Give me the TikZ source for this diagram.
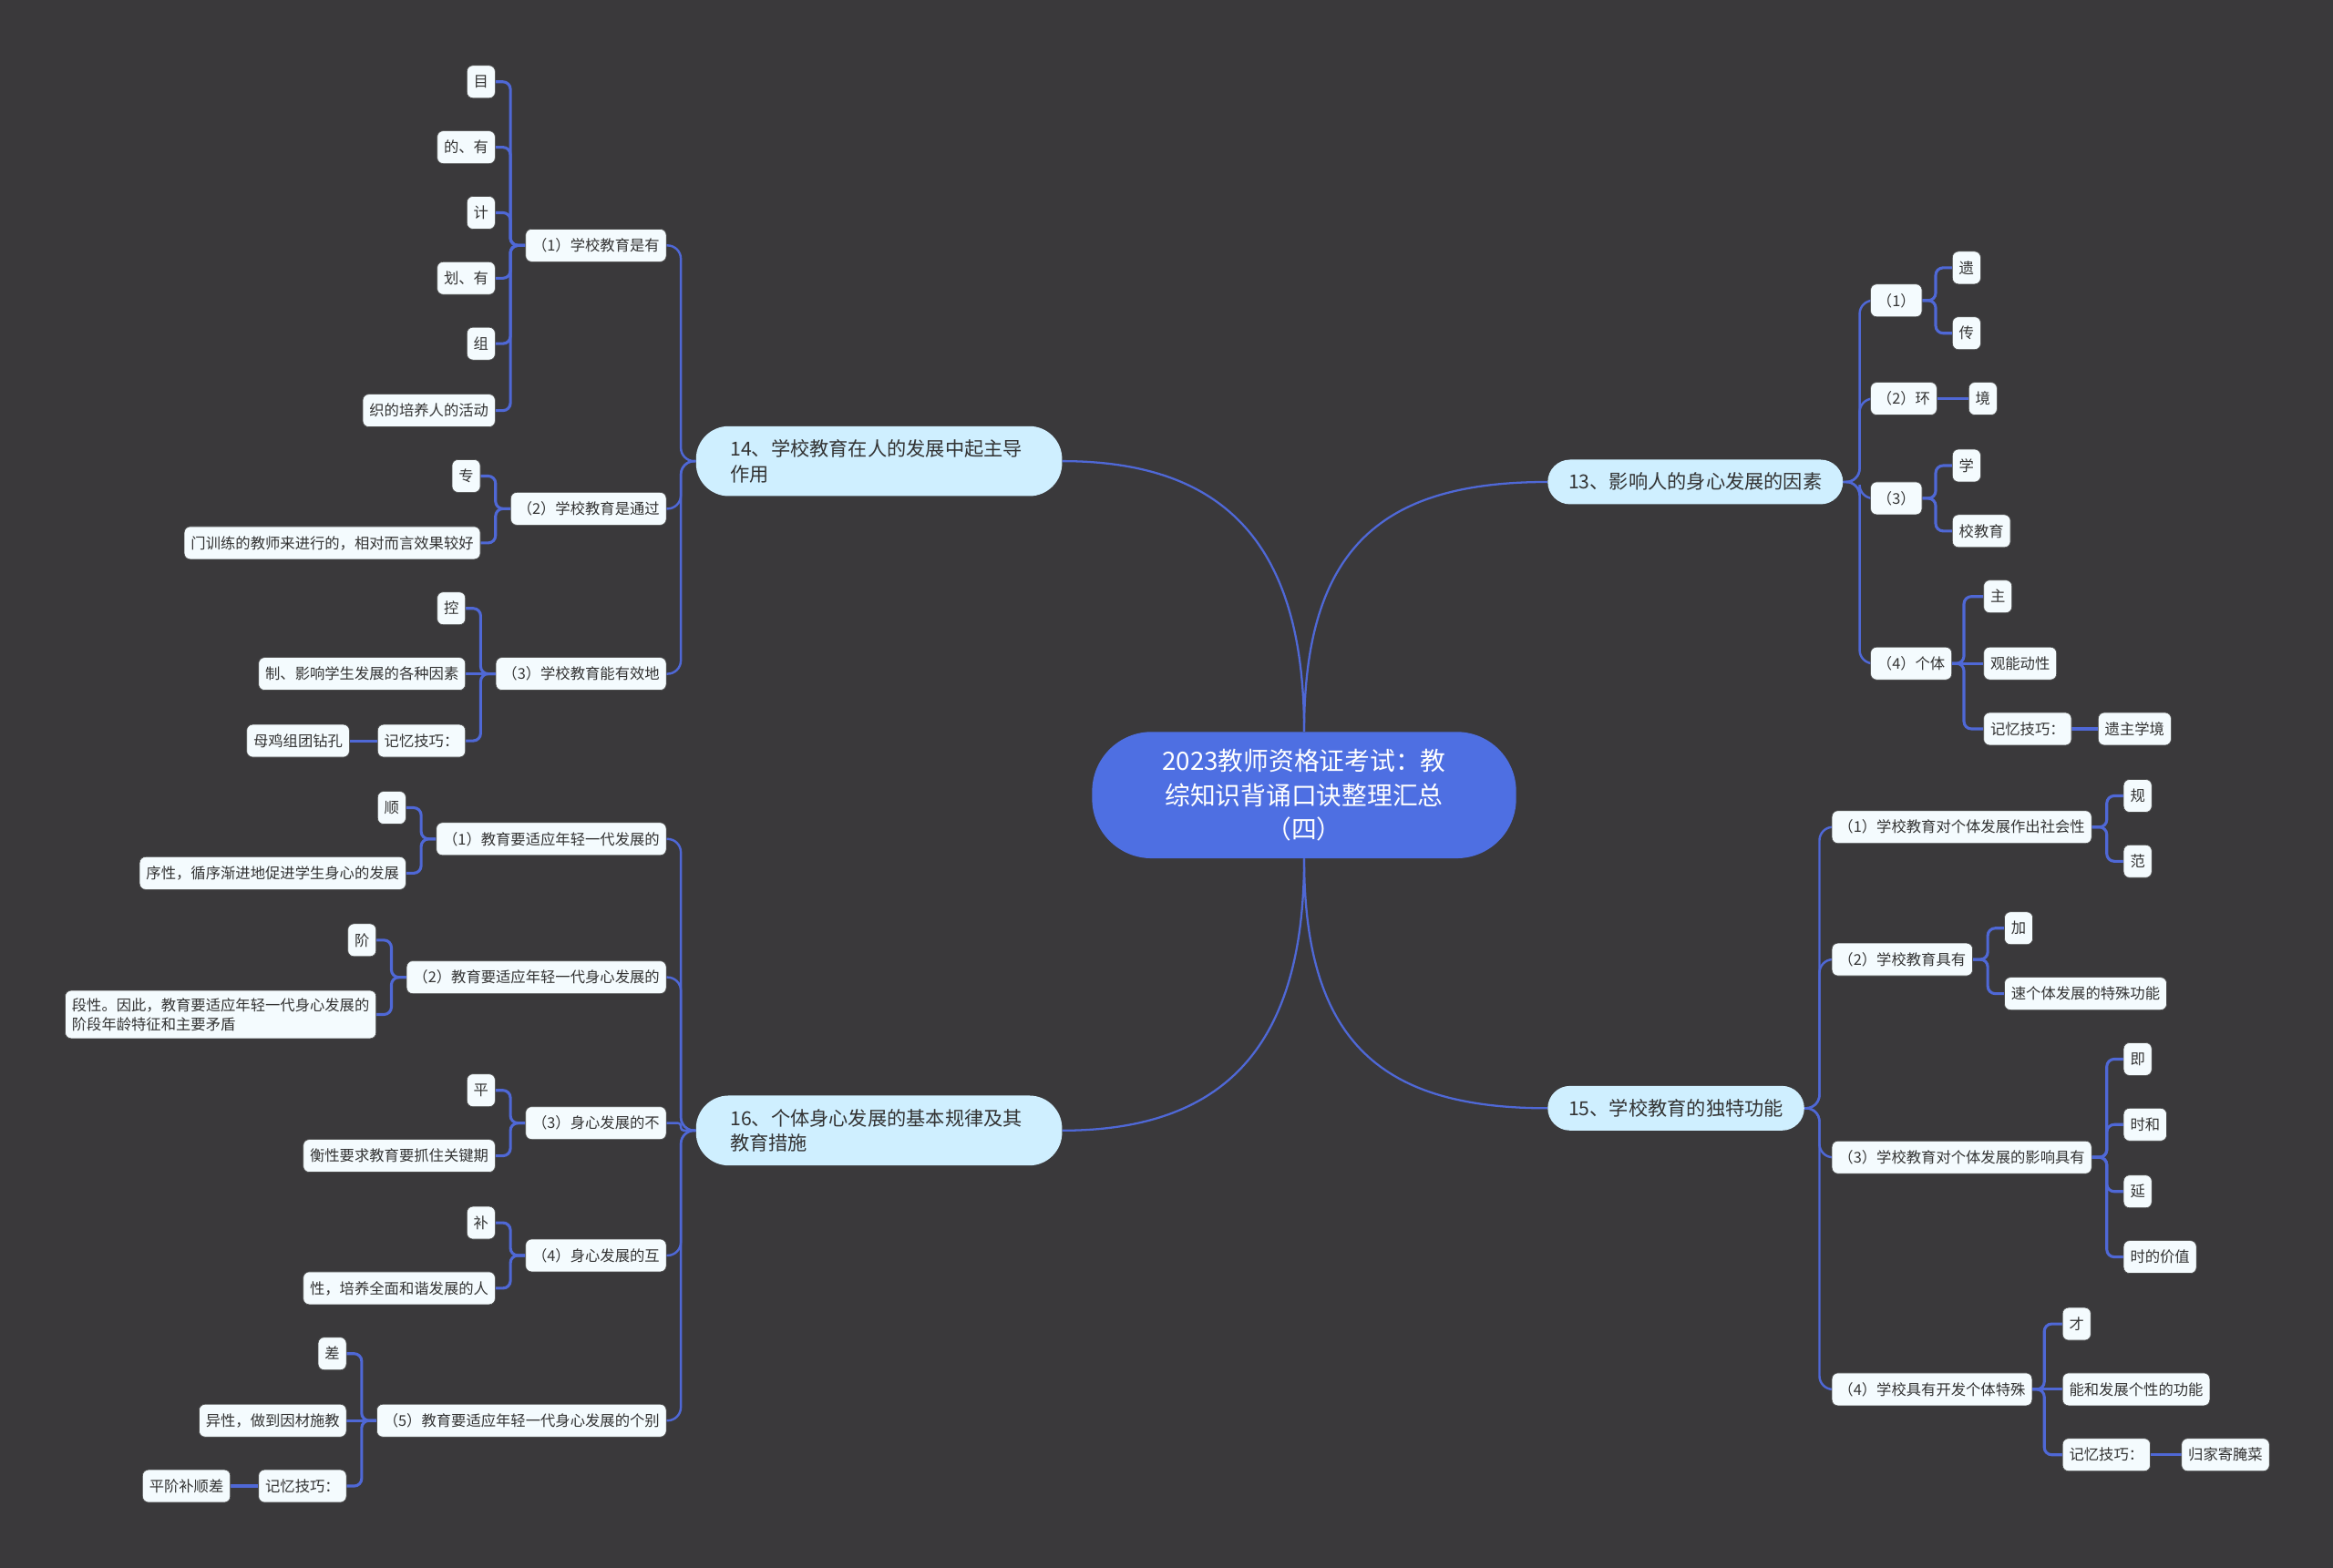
\documentclass[tikz,border=0pt]{standalone}
\usepackage{fontspec}
\setmainfont{Noto Sans CJK SC}
\usetikzlibrary{backgrounds}
\definecolor{bgc}{HTML}{3A393B}
\definecolor{lkc}{HTML}{4F68D6}
\definecolor{rootc}{HTML}{4E6FE2}
\definecolor{topc}{HTML}{CFEFFF}
\definecolor{leafc}{HTML}{F4FBFE}
\definecolor{txtc}{HTML}{333333}
\begin{document}
\begin{tikzpicture}[x=1pt,y=-1pt,
 root/.style={fill=rootc, text=white, rounded corners=40pt, minimum width=285pt, minimum height=85pt, text width=230pt, align=center, font=\fontsize{17pt}{23pt}\selectfont, inner sep=0pt},
 topic/.style={fill=topc, text=txtc, rounded corners=15pt, font=\fontsize{13pt}{17pt}\selectfont, inner xsep=14pt, inner ysep=0pt, text height=11.4pt, text depth=1.6pt, minimum height=30pt},
 topictwo/.style={fill=topc, text=txtc, rounded corners=22pt, font=\fontsize{13pt}{17pt}\selectfont, inner xsep=23pt, inner ysep=0pt, minimum height=47pt, text width=200pt, align=left},
 leaf/.style={fill=leafc, text=txtc, draw=black!70, line width=0.4pt, rounded corners=4pt, font=\fontsize{10pt}{13pt}\selectfont, inner xsep=4.5pt, inner ysep=6pt, text height=8.8pt, text depth=1.2pt},
 leafml/.style={fill=leafc, text=txtc, draw=black!70, line width=0.4pt, rounded corners=4pt, font=\fontsize{10pt}{13pt}\selectfont, inner xsep=4.5pt, inner ysep=5pt, text width=200pt, align=left},
 mainlk/.style={draw=lkc, line width=1.4pt},
 lk/.style={draw=lkc, line width=1.5pt, rounded corners=9pt},
 lkb/.style={draw=lkc, line width=1.9pt, rounded corners=5pt}
]
\begin{pgfonlayer}{background}
\fill[bgc] (0,0) rectangle (1568,1054);
\end{pgfonlayer}
\useasboundingbox (0,0) rectangle (1568,1054);

% root
\node[root] (root) at (876.5,534.5) {2023教师资格证考试：教\\综知识背诵口诀整理汇总\\（四）};

% ---------- 13 ----------
\node[topic,anchor=west] (t13) at (1040,324) {13、影响人的身心发展的因素};
\node[leaf,anchor=west] (a1) at (1257,202) {（1）};
\node[leaf,anchor=west] (a2) at (1257,268) {（2）环};
\node[leaf,anchor=west] (a3) at (1257,335) {（3）};
\node[leaf,anchor=west] (a4) at (1257,446) {（4）个体};
\node[leaf,anchor=west] (a11) at (1312,180) {遗};
\node[leaf,anchor=west] (a12) at (1312,224) {传};
\node[leaf,anchor=west] (a21) at (1323,268) {境};
\node[leaf,anchor=west] (a31) at (1312,313) {学};
\node[leaf,anchor=west] (a32) at (1312,357) {校教育};
\node[leaf,anchor=west] (a41) at (1333,401) {主};
\node[leaf,anchor=west] (a42) at (1333,446) {观能动性};
\node[leaf,anchor=west] (a43) at (1333,490) {记忆技巧：};
\node[leaf,anchor=west] (a431) at (1410,490) {遗主学境};

% ---------- 15 ----------
\node[topic,anchor=west] (t15) at (1040,745) {15、学校教育的独特功能};
\node[leaf,anchor=west] (c1) at (1231,556) {（1）学校教育对个体发展作出社会性};
\node[leaf,anchor=west] (c11) at (1427,535) {规};
\node[leaf,anchor=west] (c12) at (1427,579) {范};
\node[leaf,anchor=west] (c2) at (1231,645) {（2）学校教育具有};
\node[leaf,anchor=west] (c21) at (1347,624) {加};
\node[leaf,anchor=west] (c22) at (1347,668) {速个体发展的特殊功能};
\node[leaf,anchor=west] (c3) at (1231,778) {（3）学校教育对个体发展的影响具有};
\node[leaf,anchor=west] (c31) at (1427,712) {即};
\node[leaf,anchor=west] (c32) at (1427,756) {时和};
\node[leaf,anchor=west] (c33) at (1427,801) {延};
\node[leaf,anchor=west] (c34) at (1427,845) {时的价值};
\node[leaf,anchor=west] (c4) at (1231,934) {（4）学校具有开发个体特殊};
\node[leaf,anchor=west] (c41) at (1386,890) {才};
\node[leaf,anchor=west] (c42) at (1386,934) {能和发展个性的功能};
\node[leaf,anchor=west] (c43) at (1386,978) {记忆技巧：};
\node[leaf,anchor=west] (c431) at (1466,978) {归家寄腌菜};

% ---------- 14 ----------
\node[topictwo,anchor=east] (t14) at (714,310) {14、学校教育在人的发展中起主导\\作用};
\node[leaf,anchor=east] (b1) at (448,165) {（1）学校教育是有};
\node[leaf,anchor=east] (b11) at (333,55) {目};
\node[leaf,anchor=east] (b12) at (333,99) {的、有};
\node[leaf,anchor=east] (b13) at (333,143) {计};
\node[leaf,anchor=east] (b14) at (333,187) {划、有};
\node[leaf,anchor=east] (b15) at (333,231) {组};
\node[leaf,anchor=east] (b16) at (333,276) {织的培养人的活动};
\node[leaf,anchor=east] (b2) at (448,342) {（2）学校教育是通过};
\node[leaf,anchor=east] (b21) at (323,320) {专};
\node[leaf,anchor=east] (b22) at (323,365) {门训练的教师来进行的，相对而言效果较好};
\node[leaf,anchor=east] (b3) at (448,453) {（3）学校教育能有效地};
\node[leaf,anchor=east] (b31) at (313,409) {控};
\node[leaf,anchor=east] (b32) at (313,453) {制、影响学生发展的各种因素};
\node[leaf,anchor=east] (b33) at (313,498) {记忆技巧：};
\node[leaf,anchor=east] (b331) at (235,498) {母鸡组团钻孔};

% ---------- 16 ----------
\node[topictwo,anchor=east] (t16) at (714,760) {16、个体身心发展的基本规律及其\\教育措施};
\node[leaf,anchor=east] (d1) at (448,564) {（1）教育要适应年轻一代发展的};
\node[leaf,anchor=east] (d11) at (273,543) {顺};
\node[leaf,anchor=east] (d12) at (273,587) {序性，循序渐进地促进学生身心的发展};
\node[leaf,anchor=east] (d2) at (448,657) {（2）教育要适应年轻一代身心发展的};
\node[leaf,anchor=east] (d21) at (253,632) {阶};
\node[leafml,anchor=east] (d22) at (253,682) {段性。因此，教育要适应年轻一代身心发展的\\阶段年龄特征和主要矛盾};
\node[leaf,anchor=east] (d3) at (448,755) {（3）身心发展的不};
\node[leaf,anchor=east] (d31) at (333,733) {平};
\node[leaf,anchor=east] (d32) at (333,777) {衡性要求教育要抓住关键期};
\node[leaf,anchor=east] (d4) at (448,844) {（4）身心发展的互};
\node[leaf,anchor=east] (d41) at (333,822) {补};
\node[leaf,anchor=east] (d42) at (333,866) {性，培养全面和谐发展的人};
\node[leaf,anchor=east] (d5) at (448,955) {（5）教育要适应年轻一代身心发展的个别};
\node[leaf,anchor=east] (d51) at (233,910) {差};
\node[leaf,anchor=east] (d52) at (233,955) {异性，做到因材施教};
\node[leaf,anchor=east] (d53) at (233,999) {记忆技巧：};
\node[leaf,anchor=east] (d531) at (155,999) {平阶补顺差};

\begin{pgfonlayer}{background}
% root to topics
\draw[mainlk] (root.north) .. controls +(0,-125) and +(-110,0) .. (t13.west);
\draw[mainlk] (root.north) .. controls +(0,-125) and +(110,0) .. (t14.east);
\draw[mainlk] (root.south) .. controls +(0,125) and +(-110,0) .. (t15.west);
\draw[mainlk] (root.south) .. controls +(0,125) and +(110,0) .. (t16.east);

% 13
\foreach \c in {a1,a2,a3,a4} \draw[lk] (t13.east) -- ++(11,0) |- (\c.west);
\foreach \c in {a11,a12} \draw[lkb] (a1.east) -- ++(9,0) |- (\c.west);
\draw[lkb] (a2.east) -- (a21.west);
\foreach \c in {a31,a32} \draw[lkb] (a3.east) -- ++(9,0) |- (\c.west);
\foreach \c in {a41,a43} \draw[lkb] (a4.east) -- ++(8,0) |- (\c.west);
\draw[lkb] (a4.east) -- (a42.west);
\draw[lkb] (a43.east) -- (a431.west);

% 15
\foreach \c in {c1,c2,c3,c4} \draw[lk] (t15.east) -- ++(10,0) |- (\c.west);
\foreach \c in {c11,c12} \draw[lkb] (c1.east) -- ++(10,0) |- (\c.west);
\foreach \c in {c21,c22} \draw[lkb] (c2.east) -- ++(10,0) |- (\c.west);
\foreach \c in {c31,c32,c33,c34} \draw[lkb] (c3.east) -- ++(10,0) |- (\c.west);
\foreach \c in {c41,c43} \draw[lkb] (c4.east) -- ++(8,0) |- (\c.west);
\draw[lkb] (c4.east) -- (c42.west);
\draw[lkb] (c43.east) -- (c431.west);

% 14
\foreach \c in {b1,b2,b3} \draw[lk] (t14.west) -- ++(-10,0) |- (\c.east);
\foreach \c in {b11,b12,b13,b14,b15,b16} \draw[lkb] (b1.west) -- ++(-10,0) |- (\c.east);
\foreach \c in {b21,b22} \draw[lkb] (b2.west) -- ++(-10,0) |- (\c.east);
\foreach \c in {b31,b33} \draw[lkb] (b3.west) -- ++(-10,0) |- (\c.east);
\draw[lkb] (b3.west) -- (b32.east);
\draw[lkb] (b33.west) -- (b331.east);

% 16
\foreach \c in {d1,d2,d4,d5} \draw[lk] (t16.west) -- ++(-10,0) |- (\c.east);
\draw[lk, rounded corners=2pt] (t16.west) -- ++(-10,0) |- (d3.east);
\foreach \c in {d11,d12} \draw[lkb] (d1.west) -- ++(-10,0) |- (\c.east);
\foreach \c in {d21,d22} \draw[lkb] (d2.west) -- ++(-10,0) |- (\c.east);
\foreach \c in {d31,d32} \draw[lkb] (d3.west) -- ++(-10,0) |- (\c.east);
\foreach \c in {d41,d42} \draw[lkb] (d4.west) -- ++(-10,0) |- (\c.east);
\foreach \c in {d51,d53} \draw[lkb] (d5.west) -- ++(-10,0) |- (\c.east);
\draw[lkb] (d5.west) -- (d52.east);
\draw[lkb] (d53.west) -- (d531.east);
\end{pgfonlayer}
\end{tikzpicture}
\end{document}
